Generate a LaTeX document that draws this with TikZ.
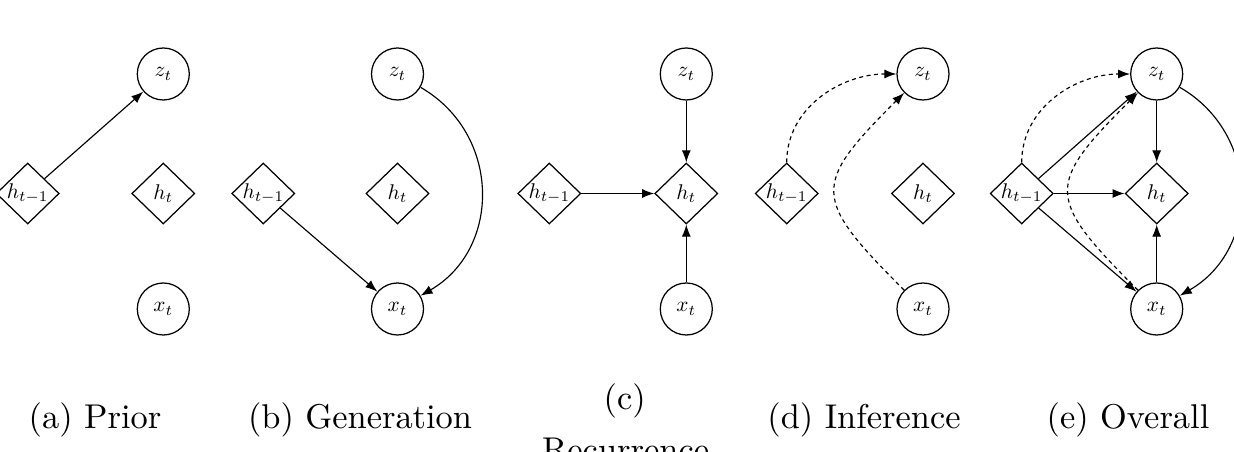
\documentclass[tikz,border=0pt]{standalone}
\usepackage{graphicx}
\usetikzlibrary{shapes.geometric,arrows.meta}
\tikzset{
  var/.style={circle,draw,line width=1.25pt,minimum size=52pt,inner sep=0pt},
  hid/.style={diamond,draw,line width=1.25pt,minimum width=63pt,minimum height=61pt,inner sep=0pt},
  arr/.style={-{Latex[length=12pt,width=9pt]},line width=1.15pt},
  darr/.style={arr,dash pattern=on 4pt off 3.5pt},
  captext/.style={anchor=base,inner sep=0pt}
}
\newcommand{\nlab}[1]{\makebox[0pt][c]{\scalebox{2.13}{$#1$}}}
\newcommand{\clab}[1]{\scalebox{3.44}{#1}}
\begin{document}
\begin{tikzpicture}[x=1pt,y=1pt]
\useasboundingbox (0,0) rectangle (1234,452);
% (a) Prior
\node[hid] (ah1) at (27.7,258.5) {\nlab{h_{t-1}}};
\node[var] (az) at (163.3,378) {\nlab{z_t}};
\node[hid] (ah) at (163.3,258.5) {\nlab{h_t}};
\node[var] (ax) at (163.3,143) {\nlab{x_t}};
\draw[arr] (ah1) -- (az);
% (b) Generation
\node[hid] (bh1) at (263.3,258.5) {\nlab{h_{t-1}}};
\node[var] (bz) at (397.5,378) {\nlab{z_t}};
\node[hid] (bh) at (397.5,258.5) {\nlab{h_t}};
\node[var] (bx) at (397.5,143) {\nlab{x_t}};
\draw[arr] (bh1) -- (bx);
\draw[arr] (bz) to[out=-30,in=30,looseness=1.15] (bx);
% (c) Recurrence
\node[hid] (ch1) at (549.3,258.5) {\nlab{h_{t-1}}};
\node[var] (cz) at (686.3,378) {\nlab{z_t}};
\node[hid] (ch) at (686.3,258.5) {\nlab{h_t}};
\node[var] (cx) at (686.3,143) {\nlab{x_t}};
\draw[arr] (ch1) -- (ch);
\draw[arr] (cz) -- (ch);
\draw[arr] (cx) -- (ch);
% (d) Inference
\node[hid] (dh1) at (786.7,258.5) {\nlab{h_{t-1}}};
\node[var] (dz) at (923,378) {\nlab{z_t}};
\node[hid] (dh) at (923,258.5) {\nlab{h_t}};
\node[var] (dx) at (923,143) {\nlab{x_t}};
\draw[darr] (dh1.north) to[out=90,in=180] (dz.west);
\draw[darr] (dx) to[out=135,in=-135,looseness=1.7] (dz);
% (e) Overall
\node[hid] (eh1) at (1021.7,258.5) {\nlab{h_{t-1}}};
\node[var] (ez) at (1156.7,378) {\nlab{z_t}};
\node[hid] (eh) at (1156.7,258.5) {\nlab{h_t}};
\node[var] (ex) at (1156.7,143) {\nlab{x_t}};
\draw[arr] (eh1) -- (ez);
\draw[arr] (eh1) -- (eh);
\draw[arr] (eh1) -- (ex);
\draw[arr] (ez) -- (eh);
\draw[arr] (ex) -- (eh);
\draw[arr] (ez) to[out=-30,in=30,looseness=1.15] (ex);
\draw[darr] (eh1.north) to[out=90,in=180] (ez.west);
\draw[darr] (ex) to[out=135,in=-135,looseness=1.7] (ez);
% captions
\node[captext] (capa) at (95,23.5) {\clab{(a) Prior}};
\node[captext] (capb) at (360,23.5) {\clab{(b) Generation}};
\node[captext] (capc) at (624.7,42) {\clab{(c)}};
\node[captext] (capc2) at (625.6,-9.5) {\clab{Recurrence}};
\node[captext] (capd) at (864,23.5) {\clab{(d) Inference}};
\node[captext] (cape) at (1128,23.5) {\clab{(e) Overall}};
\end{tikzpicture}
\end{document}
